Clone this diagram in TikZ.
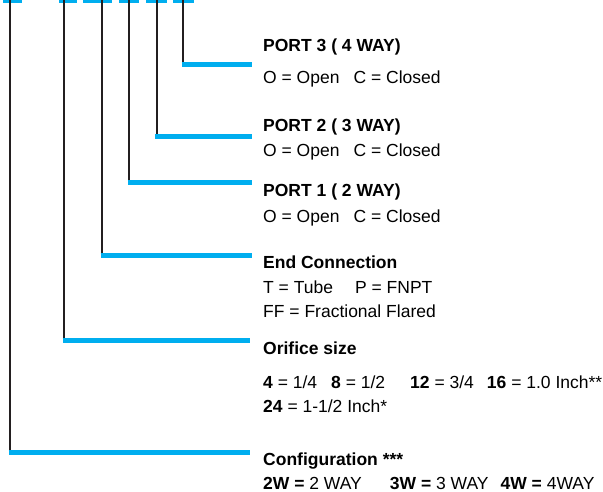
\documentclass[tikz,border=0pt]{standalone}
\usepackage{fontspec}
\setmainfont{Liberation Sans}
\definecolor{codeblue}{HTML}{00AEEF}
\definecolor{stemgray}{HTML}{231F20}
\tikzset{
    every picture/.style={
        x=1pt,y=-1pt,font=\fontsize{17.5}{20}\selectfont,
        stem/.style={stemgray,line width=2pt},
        leader/.style={codeblue,line width=5pt,shorten <=-1.5pt},
        slot/.style={codeblue,line width=2.5pt},
        heading/.style={anchor=base west,inner sep=0pt,font=\fontsize{17.5}{20}\selectfont\bfseries},
        entry/.style={anchor=base west,inner sep=0pt}
    }
}

\begin{document}
\begin{tikzpicture}
    \useasboundingbox (0,0) rectangle (603,492);
    % one slot of the code per field
    \coordinate (cfg) at (10,0);
    \coordinate (ori) at (64,0);
    \coordinate (end) at (102,0);
    \coordinate (pA)  at (129.3,0);
    \coordinate (pB)  at (156.7,0);
    \coordinate (pC)  at (183.3,0);
    \draw[slot] (3,1.4) -- (22,1.4);
    \draw[slot] (59,1.4) -- (77,1.4);
    \draw[slot] (83,1.4) -- (112,1.4);
    \draw[slot] (119,1.4) -- (139,1.4);
    \draw[slot] (146,1.4) -- (167,1.4);
    \draw[slot] (173,1.4) -- (194,1.4);

    % ends of the leaders
    \coordinate (pCx)  at (252,64.5);
    \coordinate (pBx)  at (252,136.5);
    \coordinate (pAx)  at (252,183);
    \coordinate (endx) at (252,255.5);
    \coordinate (orix) at (250,340.5);
    \coordinate (cfgx) at (250,452);

    \draw[stem] (pC)  -- (pC |- pCx);
    \draw[stem] (pB)  -- (pB |- pBx);
    \draw[stem] (pA)  -- (pA |- pAx);
    \draw[stem] (end) -- (end |- endx);
    \draw[stem] (ori) -- (ori |- orix);
    \draw[stem] (cfg) -- (cfg |- cfgx);
    \draw[leader] (pC |- pCx)   -- (pCx);
    \draw[leader] (pB |- pBx)   -- (pBx);
    \draw[leader] (pA |- pAx)   -- (pAx);
    \draw[leader] (end |- endx) -- (endx);
    \draw[leader] (ori |- orix) -- (orix);
    \draw[leader] (cfg |- cfgx) -- (cfgx);

    % texts
    \node[heading] (pCt) at (263,52)  {PORT 3 ( 4 WAY)};
    \node[entry]   (pCo) at (263,84)  {O = Open\hspace{14pt}C = Closed};
    \node[heading] (pBt) at (263,131.5) {PORT 2 ( 3 WAY)};
    \node[entry]   (pBo) at (263,157) {O = Open\hspace{14pt}C = Closed};
    \node[heading] (pAt) at (263,196.5) {PORT 1 ( 2 WAY)};
    \node[entry]   (pAo) at (263,222.5) {O = Open\hspace{14pt}C = Closed};
    \node[heading] (endt) at (263,269) {End Connection};
    \node[entry]   (endo) at (263,293) {T = Tube\hspace{22pt}P = FNPT};
    \node[entry]   (endf) at (263,317) {FF = Fractional Flared};
    \node[heading] (orit) at (263,354) {Orifice size};
    \node[entry]   (orio) at (263,388.3) {\textbf{4} = 1/4\hspace{14pt}\textbf{8} = 1/2\hspace{25pt}\textbf{12} = 3/4\hspace{13pt}\textbf{16} = 1.0 Inch**};
    \node[entry]   (orif) at (263,412.5) {\textbf{24} = 1-1/2 Inch*};
    \node[heading] (cfgt) at (263,465) {Configuration ***};
    \node[entry]   (cfgo) at (263,489) {\textbf{2W =} 2 WAY\hspace{28pt}\textbf{3W =} 3 WAY\hspace{12pt}\textbf{4W =} 4WAY};
\end{tikzpicture}
\end{document}
